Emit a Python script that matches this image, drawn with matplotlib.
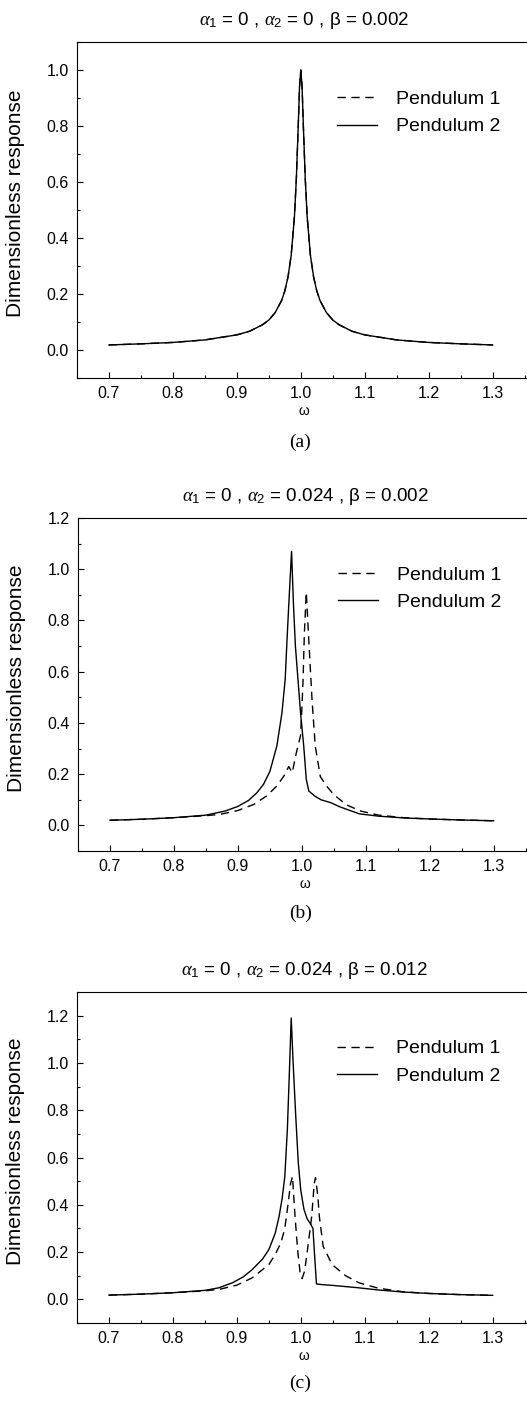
import numpy as np
import matplotlib
matplotlib.use("Agg")
import matplotlib.pyplot as plt
from matplotlib.ticker import MultipleLocator

plt.rcParams['font.family'] = ['Liberation Sans', 'DejaVu Sans']
plt.rcParams['mathtext.fontset'] = 'custom'
plt.rcParams['mathtext.it'] = 'Liberation Serif:italic'
plt.rcParams['mathtext.rm'] = 'Liberation Sans'

# panel (a): both pendulums coincide
omega_a = [0.70, 0.75, 0.80, 0.85, 0.90, 0.92, 0.94, 0.95, 0.96, 0.97,
           0.975, 0.98, 0.985, 0.99, 0.993, 0.996, 0.998, 1.000, 1.002, 1.004,
           1.007, 1.010, 1.015, 1.020, 1.025, 1.030, 1.040, 1.050, 1.060, 1.080,
           1.100, 1.150, 1.200, 1.250, 1.300]
p1_a = [0.018, 0.022, 0.027, 0.036, 0.054, 0.067, 0.090, 0.107, 0.134, 0.177,
        0.211, 0.261, 0.339, 0.475, 0.61, 0.80, 0.94, 1.00, 0.94, 0.80,
        0.61, 0.475, 0.339, 0.261, 0.211, 0.177, 0.134, 0.107, 0.090, 0.067,
        0.054, 0.036, 0.027, 0.022, 0.018]
p2_a = list(p1_a)

# panel (b)
omega_b1 = [0.70, 0.75, 0.80, 0.85, 0.872, 0.90, 0.925, 0.945, 0.961, 0.974,
            0.9795, 0.985, 0.9915, 0.998, 1.0003, 1.002, 1.004, 1.007, 1.011, 1.016,
            1.021, 1.029, 1.04, 1.05, 1.07, 1.092, 1.12, 1.16, 1.20, 1.25,
            1.30]
p1_b = [0.020, 0.024, 0.030, 0.038, 0.043, 0.058, 0.082, 0.115, 0.154, 0.20,
        0.23, 0.206, 0.284, 0.35, 0.466, 0.57, 0.75, 0.91, 0.72, 0.49,
        0.31, 0.19, 0.15, 0.12, 0.08, 0.056, 0.040, 0.030, 0.025, 0.021,
        0.018]
omega_b2 = [0.70, 0.75, 0.80, 0.85, 0.88, 0.90, 0.917, 0.930, 0.940, 0.950,
            0.961, 0.969, 0.974, 0.977, 0.980, 0.984, 0.987, 0.990, 0.994, 0.998,
            1.003, 1.007, 1.011, 1.02, 1.03, 1.045, 1.06, 1.09, 1.12, 1.16,
            1.20, 1.25, 1.30]
p2_b = [0.020, 0.024, 0.030, 0.040, 0.056, 0.074, 0.098, 0.128, 0.16, 0.21,
        0.31, 0.44, 0.57, 0.73, 0.88, 1.07, 0.86, 0.70, 0.57, 0.44,
        0.31, 0.18, 0.134, 0.115, 0.10, 0.089, 0.072, 0.045, 0.036, 0.029,
        0.025, 0.021, 0.018]

# panel (c)
omega_c1 = [0.70, 0.75, 0.80, 0.85, 0.872, 0.90, 0.924, 0.950, 0.960, 0.969,
            0.975, 0.979, 0.984, 0.987, 0.991, 0.995, 0.999, 1.002, 1.006, 1.0105,
            1.017, 1.021, 1.023, 1.0265, 1.029, 1.035, 1.049, 1.07, 1.091, 1.12,
            1.16, 1.20, 1.25, 1.30]
p1_c = [0.018, 0.022, 0.028, 0.036, 0.042, 0.060, 0.091, 0.147, 0.19, 0.24,
        0.30, 0.38, 0.49, 0.52, 0.35, 0.21, 0.11, 0.088, 0.12, 0.21,
        0.35, 0.49, 0.515, 0.44, 0.35, 0.224, 0.147, 0.10, 0.070, 0.048,
        0.032, 0.025, 0.020, 0.017]
omega_c2 = [0.70, 0.75, 0.80, 0.85, 0.872, 0.893, 0.91, 0.924, 0.94, 0.950,
            0.960, 0.966, 0.971, 0.975, 0.979, 0.982, 0.985, 0.988, 0.992, 0.996,
            1.000, 1.005, 1.010, 1.015, 1.019, 1.021, 1.0245, 1.035, 1.05, 1.07,
            1.09, 1.12, 1.16, 1.20, 1.25, 1.30]
p2_c = [0.018, 0.022, 0.028, 0.038, 0.049, 0.07, 0.095, 0.126, 0.17, 0.21,
        0.28, 0.35, 0.43, 0.52, 0.72, 0.95, 1.19, 1.0, 0.78, 0.58,
        0.46, 0.38, 0.34, 0.32, 0.30, 0.21, 0.065, 0.062, 0.059, 0.054,
        0.049, 0.040, 0.031, 0.025, 0.020, 0.017]

titles = [r'$\alpha_1$ = 0 , $\alpha_2$ = 0 , β = 0.002',
          r'$\alpha_1$ = 0 , $\alpha_2$ = 0.024 , β = 0.002',
          r'$\alpha_1$ = 0 , $\alpha_2$ = 0.024 , β = 0.012']
captions = ['(a)', '(b)', '(c)']
ylims = [(-0.1, 1.1), (-0.1, 1.2), (-0.1, 1.3)]
yticks = [np.arange(0, 1.01, 0.2), np.arange(0, 1.21, 0.2), np.arange(0, 1.21, 0.2)]

panels = [(omega_a, p1_a, omega_a, p2_a),
          (omega_b1, p1_b, omega_b2, p2_b),
          (omega_c1, p1_c, omega_c2, p2_c)]

W, H = 527, 1403
fig = plt.figure(figsize=(W / 100, H / 100), dpi=100)

# axes boxes in pixels: left, top, right, bottom
boxes = [(77, 42, 531, 378), (78, 518, 532, 851), (77, 992, 531, 1323)]
caption_y = [442, 913, 1383]

for i, (om1, r1, om2, r2) in enumerate(panels):
    l, t, r, b = boxes[i]
    ax = fig.add_axes([l / W, 1 - b / H, (r - l) / W, (b - t) / H])
    ax.plot(om1, r1, color='black', lw=1.0, linestyle=(0, (6, 4)), label='Pendulum 1')
    ax.plot(om2, r2, color='black', lw=1.0, label='Pendulum 2')
    ax.set_xlim(0.65, 1.36)
    ax.set_ylim(*ylims[i])
    ax.set_xticks([0.7, 0.8, 0.9, 1.0, 1.1, 1.2, 1.3])
    ax.set_yticks(yticks[i])
    ax.xaxis.set_minor_locator(MultipleLocator(0.05))
    ax.yaxis.set_minor_locator(MultipleLocator(0.1))
    ax.xaxis.set_major_formatter(plt.FormatStrFormatter('%.1f'))
    ax.yaxis.set_major_formatter(plt.FormatStrFormatter('%.1f'))
    ax.tick_params(which='both', direction='in', top=False, right=False, width=0.8)
    ax.tick_params(which='major', length=4, labelsize=11.5, pad=6)
    ax.tick_params(which='minor', length=2)
    for s in ax.spines.values():
        s.set_linewidth(0.8)
    ax.spines['right'].set_visible(False)
    ax.set_title(titles[i], fontsize=13.5, pad=12)
    ax.set_xlabel('ω', fontsize=10, labelpad=2)
    ax.set_ylabel('Dimensionless response', fontsize=15)
    ax.yaxis.set_label_coords(-0.115, 0.52)
    ax.legend(loc='upper left', bbox_to_anchor=(0.552, 0.885), frameon=False,
              fontsize=14, handlelength=2.05, handletextpad=0.95,
              borderpad=0, labelspacing=0.5)
    fig.text((l + r) / 2 / W - 0.008, 1 - caption_y[i] / H, captions[i],
             family='Liberation Serif', fontsize=14, ha='center', va='center')

fig.savefig('out.png', dpi=100)
